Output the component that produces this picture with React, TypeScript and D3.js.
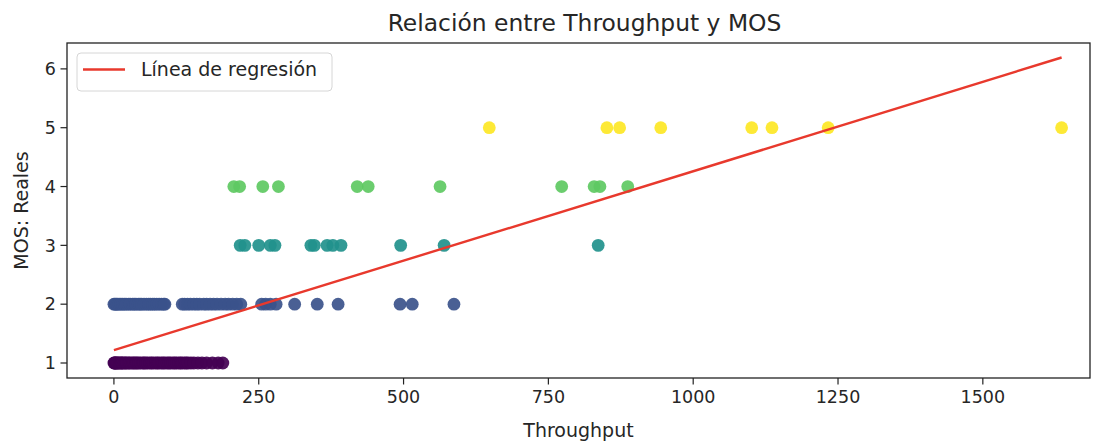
import React from "react";
import * as d3 from "d3";

// Throughput values grouped by the real MOS value (1..5)
const mos1: number[] = [0, 1, 2, 3, 5, 6, 8, 10, 12, 14, 15, 18, 20, 22, 25, 27, 30, 33, 35, 38, 40, 43, 46, 50, 52, 55, 58, 62, 65, 68, 72, 75, 78, 82, 85, 88, 92, 95, 98, 102, 105, 108, 112, 115, 118, 122, 125, 128, 133, 138, 145, 152, 160, 170, 180, 188];
const mos2: number[] = [0, 2, 4, 6, 9, 12, 15, 18, 21, 25, 28, 32, 35, 38, 42, 45, 48, 52, 56, 60, 63, 67, 70, 74, 78, 82, 86, 88, 118, 122, 127, 132, 138, 143, 148, 155, 160, 166, 172, 178, 185, 192, 198, 205, 212, 219, 255, 262, 270, 280, 312, 351, 387, 494, 515, 587];
const mos3: number[] = [218, 226, 250, 270, 278, 340, 346, 368, 378, 392, 495, 570, 836];
const mos4: number[] = [207, 217, 257, 284, 420, 439, 563, 773, 829, 839, 887];
const mos5: number[] = [648, 851, 873, 944, 1101, 1136, 1233, 1636];

const groups: { mos: number; values: number[] }[] = [
  { mos: 1, values: mos1 },
  { mos: 2, values: mos2 },
  { mos: 3, values: mos3 },
  { mos: 4, values: mos4 },
  { mos: 5, values: mos5 },
];

// Regression line (intercept, slope) and its x extent
const regIntercept = 1.22;
const regSlope = 0.00304;
const regX: number[] = [0, 1636];

const xTicks: number[] = [0, 250, 500, 750, 1000, 1250, 1500];
const yTicks: number[] = [1, 2, 3, 4, 5, 6];

const title = "Relación entre Throughput y MOS";
const xLabel = "Throughput";
const yLabel = "MOS: Reales";
const legendLabel = "Línea de regresión";

export default function App() {
  const W = 1099;
  const H = 442;
  const left = 67, right = 1090, top = 43, bottom = 378;
  const x = d3.scaleLinear().domain([-81, 1685]).range([left, right]);
  const y = d3.scaleLinear().domain([0.745, 6.44]).range([bottom, top]);
  const color = d3.scaleSequential(d3.interpolateViridis).domain([1, 5]);
  const font = "DejaVu Sans, sans-serif";
  const txt = "#262626";

  const line = d3
    .line<number>()
    .x((d) => x(d))
    .y((d) => y(regIntercept + regSlope * d));

  const points = groups.flatMap((g) => g.values.map((v) => ({ x: v, mos: g.mos })));

  return (
    <svg width={W} height={H} style={{ position: "absolute", left: 0, top: 0 }} fontFamily={font}>
      <rect x={0} y={0} width={W} height={H} fill="#fff" />
      <text x={(left + right) / 2 + 6} y={31} textAnchor="middle" fontSize={23.4} fill={txt}>
        {title}
      </text>
      <g>
        {points.map((p, i) => (
          <circle key={i} cx={x(p.x)} cy={y(p.mos)} r={6.4} fill={color(p.mos)} fillOpacity={0.92} />
        ))}
      </g>
      <path d={line(regX) || ""} fill="none" stroke="#e8392d" strokeWidth={2.4} />
      <rect x={left} y={top} width={right - left} height={bottom - top} fill="none" stroke="#222" strokeWidth={1.3} />
      {xTicks.map((t) => (
        <g key={"x" + t}>
          <line x1={x(t)} x2={x(t)} y1={bottom} y2={bottom + 6.5} stroke="#222" strokeWidth={1.2} />
          <text x={x(t)} y={bottom + 25} textAnchor="middle" fontSize={17.5} fill={txt}>
            {t}
          </text>
        </g>
      ))}
      {yTicks.map((t) => (
        <g key={"y" + t}>
          <line x1={left - 6.5} x2={left} y1={y(t)} y2={y(t)} stroke="#222" strokeWidth={1.2} />
          <text x={left - 11} y={y(t) + 6.3} textAnchor="end" fontSize={17.5} fill={txt}>
            {t}
          </text>
        </g>
      ))}
      <text x={(left + right) / 2} y={437} textAnchor="middle" fontSize={19} fill={txt}>
        {xLabel}
      </text>
      <text
        transform={`translate(${28},${(top + bottom) / 2}) rotate(-90)`}
        textAnchor="middle"
        fontSize={19}
        fill={txt}
      >
        {yLabel}
      </text>
      <g>
        <rect x={77} y={53} width={255} height={38} rx={4} fill="#fff" fillOpacity={0.8} stroke="#d6d6d6" strokeWidth={1} />
        <line x1={83} x2={125} y1={69.5} y2={69.5} stroke="#e8392d" strokeWidth={2.4} />
        <text x={141} y={76} fontSize={19} fill={txt}>
          {legendLabel}
        </text>
      </g>
    </svg>
  );
}
